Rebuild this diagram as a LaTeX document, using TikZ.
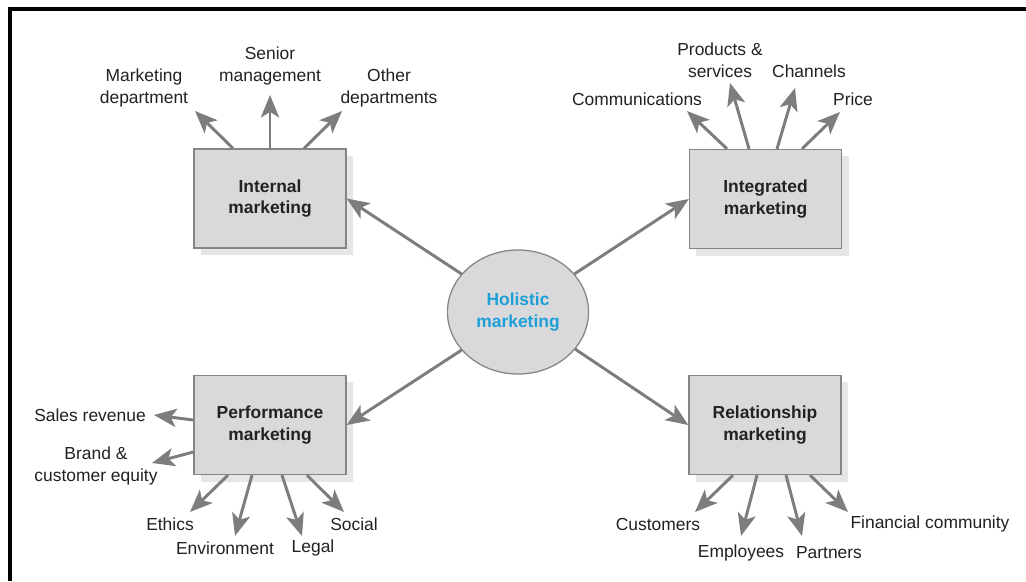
\documentclass[tikz,border=0pt]{standalone}
\usepackage{fontspec}
\setmainfont{Liberation Sans}
\usepackage{tikz}
\usetikzlibrary{arrows.meta,calc,shadows,shapes.geometric}
\definecolor{hopxam}{HTML}{D9D9DB}
\definecolor{vienxam}{HTML}{858585}
\definecolor{muiten}{HTML}{7D7D7D}
\definecolor{bongxam}{HTML}{E6E6E6}
\definecolor{xanhholi}{HTML}{1E9FD8}
\definecolor{chuden}{HTML}{222222}

\begin{document}
\begin{tikzpicture}[x=0.025cm,y=-0.025cm,
	box/.style={draw=vienxam, fill=hopxam, line width=0.9pt, minimum width=3.8cm, minimum height=2.475cm, align=center, font=\fontsize{12.4}{15.6}\selectfont\bfseries, text=chuden, drop shadow={shadow xshift=0.175cm, shadow yshift=-0.175cm, fill=bongxam, opacity=1}},
	nhan/.style={align=center, inner sep=0pt, text=chuden, font=\fontsize{12.4}{15.6}\selectfont},
	muiten/.style={draw=muiten, line width=2.1pt, -{Stealth[length=16pt, width=13pt, inset=4pt]}}]
	\useasboundingbox (0,0) rectangle (1026,581);
	\fill[white] (0,0) rectangle (1026,581);
	\draw[line width=3.2pt] (10,581) -- (10,9) -- (1026,9);
	% tam
	\node[ellipse, draw=vienxam, fill=hopxam, line width=0.9pt, minimum width=3.525cm, minimum height=3.1cm, align=center, font=\fontsize{12.4}{15.6}\selectfont\bfseries, text=xanhholi] (holi) at (518,312) {Holistic\\marketing};
	\node[box] (intm) at (270,198.5) {Internal\\marketing};
	\node[box] (integ) at (765.5,199) {Integrated\\marketing};
	\node[box] (perf) at (270,425) {Performance\\marketing};
	\node[box] (rela) at (765,425) {Relationship\\marketing};
	\draw[muiten] (holi.146) -- (intm.east);
	\draw[muiten] (holi.34) -- (integ.west);
	\draw[muiten] (holi.214) -- (perf.east);
	\draw[muiten] (holi.327) -- (rela.west);
	% internal
	\node[nhan] (lmkt) at (144,88) {Marketing\\department};
	\node[nhan] (lsen) at (270,66) {Senior\\management};
	\node[nhan] (loth) at (389,88) {Other\\departments};
	\coordinate (tmkt) at (195,111);
	\coordinate (tsen) at (270,95);
	\coordinate (toth) at (342,111);
	\draw[muiten] ($(intm.north)+(-37,0)$) -- (tmkt);
	\draw[muiten] (intm.north) -- (tsen);
	\draw[muiten] ($(intm.north)+(34,0)$) -- (toth);
	% integrated
	\node[nhan] (lcom) at (637,99) {Communications};
	\node[nhan] (lprod) at (720,60) {Products \&\\services};
	\node[nhan] (lchan) at (809,71) {Channels};
	\node[nhan] (lprice) at (853,99) {Price};
	\coordinate (tcom) at (687,111);
	\coordinate (tprod) at (730,83);
	\coordinate (tchan) at (795,88);
	\coordinate (tprice) at (840,112);
	\draw[muiten] ($(integ.north)+(-38.5,0)$) -- (tcom);
	\draw[muiten] ($(integ.north)+(-16.5,0)$) -- (tprod);
	\draw[muiten] ($(integ.north)+(11.5,0)$) -- (tchan);
	\draw[muiten] ($(integ.north)+(36.5,0)$) -- (tprice);
	% performance
	\node[nhan] (lsal) at (90,415) {Sales revenue};
	\node[nhan] (lbra) at (96,466) {Brand \&\\customer equity};
	\node[nhan] (leth) at (170,524) {Ethics};
	\node[nhan] (lenv) at (225,548) {Environment};
	\node[nhan] (lleg) at (313,548) {Legal};
	\node[nhan] (lsoc) at (354,524) {Social};
	\coordinate (tsal) at (154,415);
	\coordinate (tbra) at (152,463);
	\coordinate (teth) at (190,512);
	\coordinate (tenv) at (235,536);
	\coordinate (tleg) at (302,536);
	\coordinate (tsoc) at (344,512);
	\draw[muiten] ($(perf.west)+(0,-5)$) -- (tsal);
	\draw[muiten] ($(perf.west)+(0,27)$) -- (tbra);
	\draw[muiten] ($(perf.south)+(-42,0)$) -- (teth);
	\draw[muiten] ($(perf.south)+(-18,0)$) -- (tenv);
	\draw[muiten] ($(perf.south)+(12,0)$) -- (tleg);
	\draw[muiten] ($(perf.south)+(37,0)$) -- (tsoc);
	% relationship
	\node[nhan] (lcus) at (658,524) {Customers};
	\node[nhan] (lemp) at (741,553) {Employees};
	\node[nhan] (lpar) at (829,553) {Partners};
	\node[nhan] (lfin) at (930,524) {Financial community};
	\coordinate (tcus) at (695,512);
	\coordinate (temp) at (741,536);
	\coordinate (tpar) at (802,536);
	\coordinate (tfin) at (848,512);
	\draw[muiten] ($(rela.south)+(-32,0)$) -- (tcus);
	\draw[muiten] ($(rela.south)+(-8,0)$) -- (temp);
	\draw[muiten] ($(rela.south)+(21,0)$) -- (tpar);
	\draw[muiten] ($(rela.south)+(45,0)$) -- (tfin);
\end{tikzpicture}
\end{document}
